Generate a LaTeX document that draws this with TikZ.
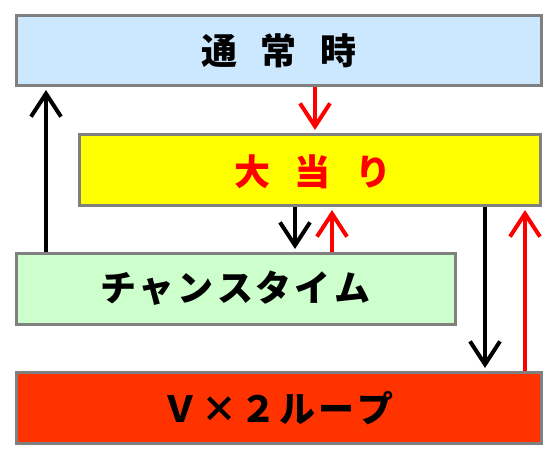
\documentclass[tikz,border=0pt]{standalone}
\usepackage{fontspec}
\newfontfamily\jp{Noto Sans CJK JP}
\usetikzlibrary{arrows.meta}
\definecolor{bluefill}{HTML}{CCE8FF}
\definecolor{greenfill}{HTML}{CCFFCC}
\definecolor{yellowfill}{HTML}{FFFF00}
\definecolor{redfill}{HTML}{FF3300}
\definecolor{boxborder}{HTML}{808080}
\definecolor{arrowred}{HTML}{FF0000}
\begin{document}
\begin{tikzpicture}[x=1pt,y=-1pt,
  box/.style={draw=boxborder, line width=3pt, inner sep=0pt, minimum height=71pt},
  jptext/.style={font=\jp\bfseries\fontsize{36}{36}\selectfont},
  flow/.style={line width=4pt, -{Straight Barb[length=23pt,width=30pt]}, shorten >=3pt},
  blackflow/.style={flow, draw=black},
  redflow/.style={flow, draw=arrowred}]
\fill[white] (0,0) rectangle (557,460);
\useasboundingbox (0,0) rectangle (557,460);

\node[box, fill=bluefill, minimum width=525pt, minimum height=70pt] (top) at (279,50.5) {};
\node[jptext, text=black] (toptext) at (279,51) {通\hspace{24pt}常\hspace{24pt}時};

\node[box, fill=yellowfill, minimum width=461pt] (hit) at (310,170) {};
\node[jptext, text=arrowred] (hittext) at (313,172) {大\hspace{25pt}当\hspace{25pt}り};

\node[box, fill=greenfill, minimum width=439pt] (chance) at (236,289) {};
\node[jptext, text=black] (chancetext) at (235,288) {チ\hspace{3pt}ャ\hspace{3pt}ン\hspace{3pt}ス\hspace{3pt}タ\hspace{3pt}イ\hspace{3pt}ム};

\node[box, fill=redfill, minimum width=525pt] (loop) at (279,408) {};
\node[jptext, text=black] (looptext) at (278,408) {Ｖ\hspace{3pt}×\hspace{3pt}２\hspace{3pt}ル\hspace{3pt}ー\hspace{3pt}プ};

\coordinate (xa) at (46,0);
\coordinate (xb) at (315,0);
\coordinate (xc) at (295,0);
\coordinate (xd) at (332,0);
\coordinate (xe) at (485,0);
\coordinate (xf) at (525,0);

\draw[blackflow] (chance.north -| xa) -- (top.south -| xa);
\draw[redflow] (top.south -| xb) -- (hit.north -| xb);
\draw[blackflow] (hit.south -| xc) -- (chance.north -| xc);
\draw[redflow] (chance.north -| xd) -- (hit.south -| xd);
\draw[blackflow] (hit.south -| xe) -- (loop.north -| xe);
\draw[redflow] (loop.north -| xf) -- (hit.south -| xf);
\end{tikzpicture}
\end{document}
